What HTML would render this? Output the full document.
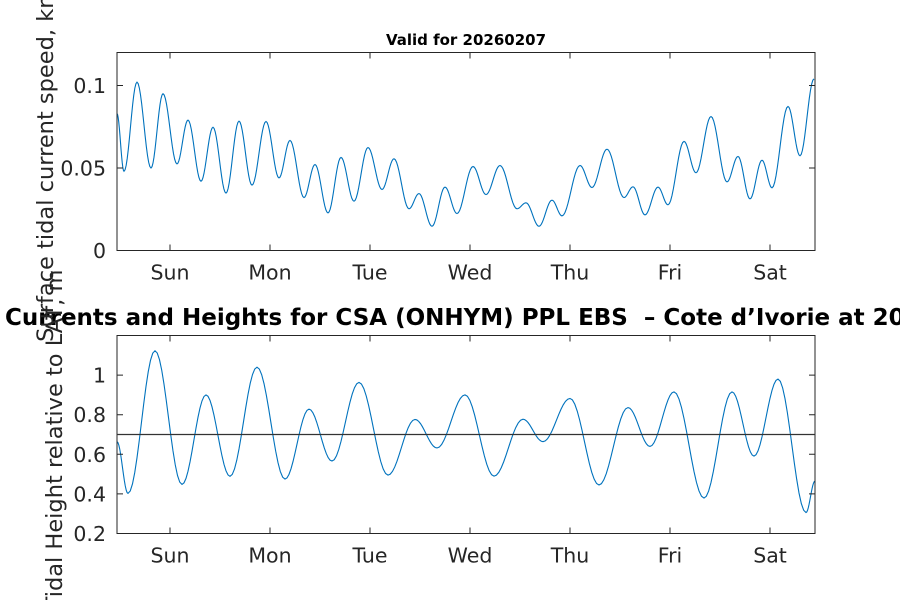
<!DOCTYPE html>
<html><head><meta charset="utf-8"><style>
html,body{margin:0;padding:0;background:#fff;}
svg{display:block;font-family:"DejaVu Sans","Liberation Sans",sans-serif;}
</style></head><body>
<svg id="chart" width="900" height="600" viewBox="0 0 900 600">
<text x="466" y="45" font-size="15" font-weight="bold" text-anchor="middle" fill="#000">Valid for 20260207</text>
<text x="5" y="325" font-size="23" font-weight="bold" fill="#000">Currents and Heights for CSA (ONHYM) PPL EBS&#160; – Cote d’Ivorie at 20260207</text>
<text transform="translate(53,151) rotate(-90)" font-size="22.5" text-anchor="middle" fill="#262626">Surface tidal current speed, knots</text>
<text transform="translate(62,440) rotate(-90)" font-size="22.5" text-anchor="middle" fill="#262626">Tidal Height relative to LAT, m</text>
<g id="top"></g>
<g id="bot"></g>
</svg>
<script>
const dayLabels = ["Sun","Mon","Tue","Wed","Thu","Fri","Sat"];
const speedTimes = [-0.53,-0.46,-0.33,-0.19,-0.07,0.07,0.18,0.31,0.43,0.56,0.69,0.82,0.96,1.09,1.20,1.34,1.45,1.58,1.71,1.84,1.98,2.12,2.24,2.39,2.49,2.62,2.75,2.87,3.03,3.16,3.30,3.47,3.56,3.69,3.82,3.92,4.10,4.22,4.37,4.54,4.63,4.75,4.88,4.98,5.14,5.26,5.41,5.57,5.68,5.80,5.92,6.02,6.18,6.30,6.44];
const speedValues = [.083,.048,.102,.050,.095,.0525,.079,.042,.0747,.0348,.0784,.0396,.0782,.044,.0667,.0321,.0521,.0228,.0564,.0299,.0624,.037,.0556,.0253,.0345,.0147,.0384,.0224,.0509,.0339,.0515,.0253,.0289,.0147,.0305,.021,.0515,.0382,.0614,.0321,.0386,.0216,.0384,.0277,.0661,.0471,.0812,.0416,.057,.0313,.0547,.038,.0873,.0574,.104];
const heightTimes = [-0.53,-0.42,-0.15,0.12,0.36,0.60,0.87,1.15,1.39,1.62,1.89,2.18,2.45,2.67,2.95,3.24,3.53,3.73,4.00,4.29,4.58,4.80,5.04,5.34,5.62,5.84,6.08,6.36,6.45];
const heightValues = [.664,.4025,1.123,.448,.9,.489,1.04,.475,.828,.566,.963,.495,.776,.632,.9,.49,.777,.664,.882,.445,.836,.64,.915,.379,.915,.591,.98,.306,.465];
const speedTicks = [0,0.05,0.1];
const speedTickLabels = ["0","0.05","0.1"];
const heightTicks = [0.2,0.4,0.6,0.8,1];
const heightTickLabels = ["0.2","0.4","0.6","0.8","1"];
const lowWaterRef = [0.7];

const NS="http://www.w3.org/2000/svg";
const X0=117,X1=815,D0=-0.53,D1=6.45;
const xs=d=>X0+(d-D0)/(D1-D0)*(X1-X0);
function mk(tag,attrs,parent){const e=document.createElementNS(NS,tag);for(const k in attrs)e.setAttribute(k,attrs[k]);parent.appendChild(e);return e;}
function curve(ts,vs,ys){
  let p="M"+xs(ts[0]).toFixed(2)+","+ys(vs[0]).toFixed(2);
  for(let i=0;i<ts.length-1;i++){
    for(let k=1;k<=12;k++){const f=k/12;const w=(1-Math.cos(Math.PI*f))/2;
      const t=ts[i]+(ts[i+1]-ts[i])*f, v=vs[i]+(vs[i+1]-vs[i])*w;
      p+="L"+xs(t).toFixed(2)+","+ys(v).toFixed(2);}
  }
  return p;
}
function axes(g,Y0,Y1,v0,v1,ticks,labels,ts,vs,name){
  const ys=v=>Y1-(v-v0)/(v1-v0)*(Y1-Y0);
  const line=mk("path",{d:curve(ts,vs,ys),fill:"none",stroke:"#0072BD","stroke-width":"1.1"},g);
  
  
  for(let i=0;i<ticks.length;i++){
    const y=ys(ticks[i]);
    const t=mk("path",{d:`M${X0},${y}h6M${X1},${y}h-6`,stroke:"#262626","stroke-width":"1"},g);
    
    
    const l=mk("text",{x:X0-11,y:y+7.5,"font-size":"20.5","text-anchor":"end",fill:"#262626"},g);
    l.textContent=labels[i];
    
    
  }
  for(let i=0;i<dayLabels.length;i++){
    const x=xs(i);
    const t=mk("path",{d:`M${x},${Y1}v-6M${x},${Y0}v6`,stroke:"#262626","stroke-width":"1"},g);
    
    
    const l=mk("text",{x:x,y:Y1+29,"font-size":"20.5","text-anchor":"middle",fill:"#262626"},g);
    l.textContent=dayLabels[i];
    
    
  }
  const b=mk("rect",{x:X0,y:Y0,width:X1-X0,height:Y1-Y0,fill:"none",stroke:"#262626","stroke-width":"1"},g);
  
  
  return ys;
}
axes(document.getElementById("top"),52.5,250.5,0,0.12,speedTicks,speedTickLabels,speedTimes,speedValues,"current-speed");
const ysb=axes(document.getElementById("bot"),335.5,533.5,0.2,1.2,heightTicks,heightTickLabels,heightTimes,heightValues,"tidal-height");
const ref=mk("line",{x1:X0,x2:X1,y1:ysb(lowWaterRef[0]),y2:ysb(lowWaterRef[0]),stroke:"#333","stroke-width":"1.2"},document.getElementById("bot"));


</script>
</body></html>
